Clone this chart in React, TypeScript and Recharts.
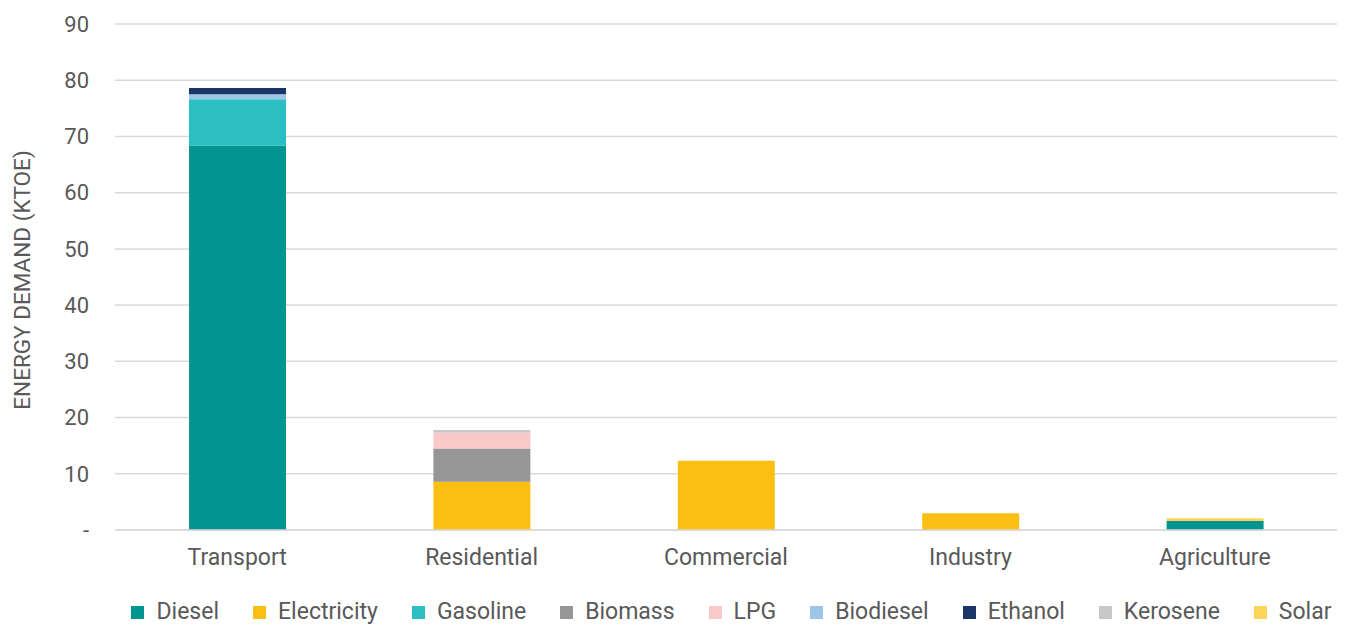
import React from 'react';
import { BarChart, Bar, XAxis, YAxis, CartesianGrid, Legend } from 'recharts';

const categories = ['Transport', 'Residential', 'Commercial', 'Industry', 'Agriculture'];

const diesel = [68.4, 0, 0, 0, 1.6];
const electricity = [0, 8.6, 12.3, 3.0, 0];
const gasoline = [8.2, 0, 0, 0, 0];
const biomass = [0, 5.9, 0, 0, 0];
const lpg = [0, 2.8, 0, 0, 0];
const biodiesel = [0.9, 0, 0, 0, 0];
const ethanol = [1.1, 0, 0, 0, 0];
const kerosene = [0, 0.5, 0, 0, 0];
const solar = [0, 0, 0, 0, 0.5];

const yTicks = [0, 10, 20, 30, 40, 50, 60, 70, 80, 90];

const SERIES = [
  { key: 'Diesel', values: diesel, color: '#009591' },
  { key: 'Electricity', values: electricity, color: '#FBBF13' },
  { key: 'Gasoline', values: gasoline, color: '#2BBFC4' },
  { key: 'Biomass', values: biomass, color: '#969696' },
  { key: 'LPG', values: lpg, color: '#F9C8C8' },
  { key: 'Biodiesel', values: biodiesel, color: '#9DC6E8' },
  { key: 'Ethanol', values: ethanol, color: '#1C3567' },
  { key: 'Kerosene', values: kerosene, color: '#C8C8C8' },
  { key: 'Solar', values: solar, color: '#FDD55B' },
];

const data = categories.map((name, i) => {
  const row: Record<string, string | number> = { name };
  SERIES.forEach((s) => { row[s.key] = s.values[i]; });
  return row;
});

const FONT = 'Roboto, "Noto Sans", sans-serif';
const TEXT = '#595959';

function LegendContent() {
  return (
    <div style={{ display: 'flex', justifyContent: 'center', fontFamily: FONT, fontSize: 23, lineHeight: '28px', color: TEXT, paddingLeft: 126 }}>
      {SERIES.map((s, i) => (
        <div key={s.key} style={{ display: 'flex', alignItems: 'center', marginRight: i === SERIES.length - 1 ? 0 : 34 }}>
          <span style={{ width: 13, height: 13, background: s.color, display: 'inline-block', marginRight: 12 }} />
          <span>{s.key}</span>
        </div>
      ))}
    </div>
  );
}

function YLabel(props: any) {
  const vb = props.viewBox || {};
  const cx = 22;
  const cy = (vb.y ?? 0) + (vb.height ?? 0) / 2 + 3;
  return (
    <text x={cx} y={cy} transform={`rotate(-90 ${cx} ${cy})`} textAnchor="middle" dominantBaseline="central"
      fill={TEXT} fontSize={22.5} fontFamily={FONT}>
      ENERGY DEMAND (KTOE)
    </text>
  );
}

export default function App() {
  return (
    <div style={{ position: 'absolute', left: 0, top: 0, width: 1346, height: 626, background: '#fff' }}>
      <BarChart width={1346} height={626} data={data} margin={{ top: 24, right: 9, left: 0, bottom: 0 }} barSize={97}>
        <CartesianGrid horizontal vertical={false} stroke="#D9D9D9" strokeWidth={1.5} />
        <XAxis dataKey="name" axisLine={{ stroke: '#D9D9D9', strokeWidth: 1.5 }} tickLine={false} tickSize={0} tickMargin={19}
          height={68} tick={{ fontSize: 23, fill: TEXT, fontFamily: FONT }} />
        <YAxis width={115} domain={[0, 90]} ticks={yTicks} interval={0} axisLine={false} tickLine={false} tickSize={0} tickMargin={26}
          tickFormatter={(v: number) => (v === 0 ? '-' : String(v))}
          tick={{ fontSize: 22, fill: TEXT, fontFamily: FONT }} label={<YLabel />} />
        <Legend verticalAlign="bottom" content={<LegendContent />} />
        {SERIES.map((s) => (
          <Bar key={s.key} dataKey={s.key} stackId="a" fill={s.color} isAnimationActive={false} />
        ))}
      </BarChart>
    </div>
  );
}
